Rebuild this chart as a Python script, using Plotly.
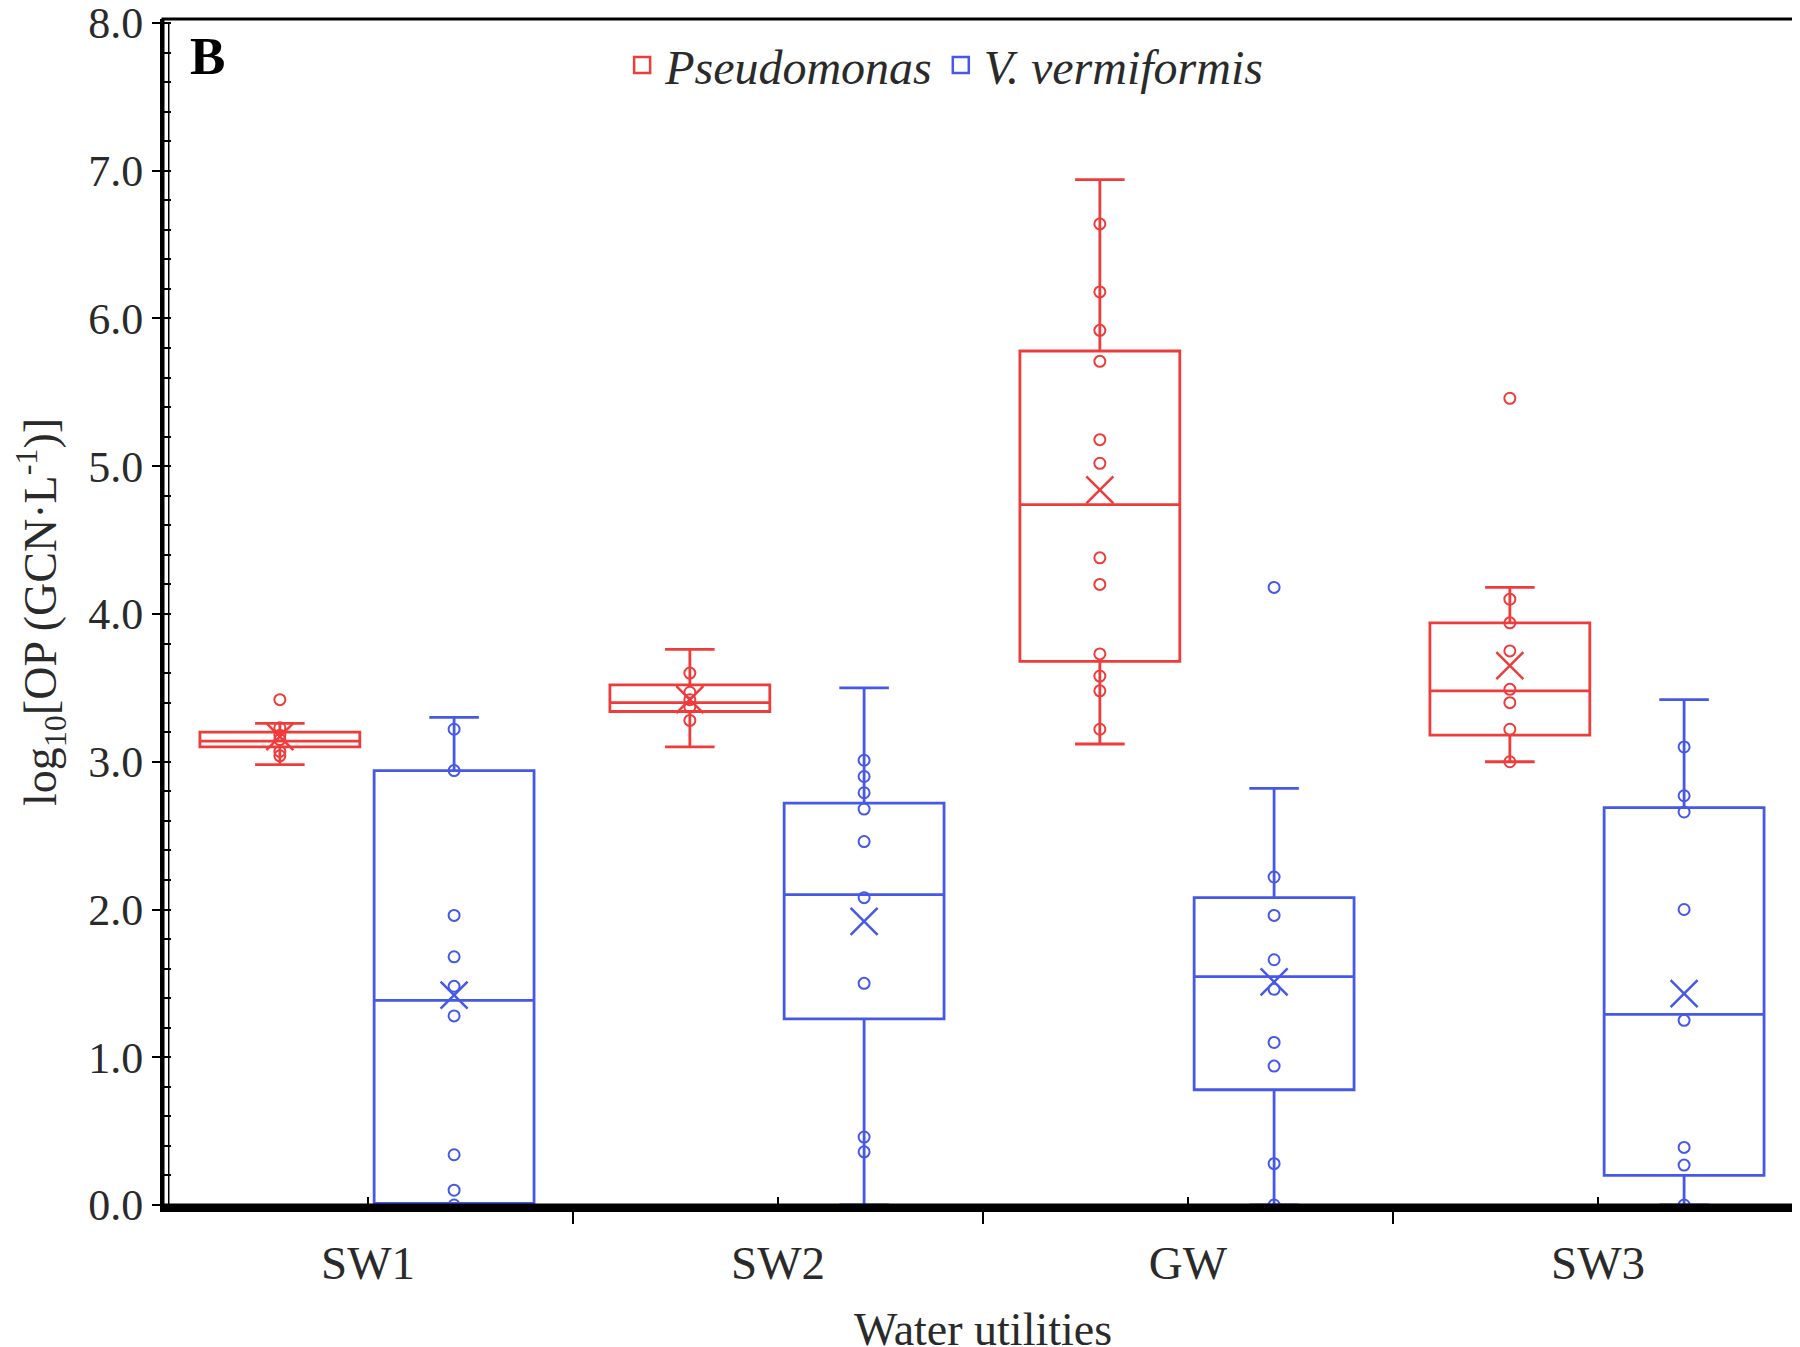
import plotly.graph_objects as go

# ---------------- data ----------------
categories = ["SW1", "SW2", "GW", "SW3"]

# Pseudomonas box statistics
pseudo_q1 = [3.10, 3.34, 3.68, 3.18]
pseudo_median = [3.14, 3.40, 4.74, 3.48]
pseudo_q3 = [3.20, 3.52, 5.78, 3.94]
pseudo_low = [2.98, 3.10, 3.12, 3.00]
pseudo_high = [3.26, 3.76, 6.94, 4.18]
pseudo_mean = [3.17, 3.42, 4.84, 3.65]

# V. vermiformis box statistics
verm_q1 = [0.01, 1.26, 0.78, 0.20]
verm_median = [1.385, 2.10, 1.545, 1.29]
verm_q3 = [2.94, 2.72, 2.08, 2.69]
verm_low = [0.0, 0.0, 0.0, 0.0]
verm_high = [3.30, 3.50, 2.82, 3.42]
verm_mean = [1.42, 1.92, 1.51, 1.43]

# individual points
pseudo_sw1 = [3.42, 3.23, 3.18, 3.15, 3.07, 3.04]
pseudo_sw2 = [3.60, 3.47, 3.42, 3.37, 3.28]
pseudo_gw = [6.64, 6.18, 5.92, 5.71, 5.18, 5.02, 4.38, 4.20, 3.73, 3.58, 3.48, 3.22]
pseudo_sw3 = [5.46, 4.10, 3.94, 3.75, 3.49, 3.40, 3.22, 3.00]

verm_sw1 = [3.22, 2.94, 1.96, 1.68, 1.48, 1.28, 0.34, 0.10, 0.0]
verm_sw2 = [3.01, 2.90, 2.79, 2.68, 2.46, 2.08, 1.50, 0.46, 0.36]
verm_gw = [4.18, 2.22, 1.96, 1.66, 1.46, 1.10, 0.94, 0.28, 0.0]
verm_sw3 = [3.10, 2.77, 2.66, 2.00, 1.25, 0.39, 0.27, 0.0]

pseudo_points = [pseudo_sw1, pseudo_sw2, pseudo_gw, pseudo_sw3]
verm_points = [verm_sw1, verm_sw2, verm_gw, verm_sw3]

y_ticks = [0, 1, 2, 3, 4, 5, 6, 7, 8]
y_ticklabels = ["0.0", "1.0", "2.0", "3.0", "4.0", "5.0", "6.0", "7.0", "8.0"]

# ---------------- style ----------------
RED = "rgb(238,60,60)"
BLUE = "rgb(70,88,232)"
TXT = "#2a2a2a"
FONT = "Liberation Serif, Times New Roman, serif"
OFF_RED, OFF_BLUE = -0.215, 0.21
BOX_W = 0.39

fig = go.Figure()

series = [
    ("<i>Pseudomonas</i>", RED, OFF_RED, pseudo_q1, pseudo_median, pseudo_q3,
     pseudo_low, pseudo_high, pseudo_mean, pseudo_points),
    ("<i>V. vermiformis</i>", BLUE, OFF_BLUE, verm_q1, verm_median, verm_q3,
     verm_low, verm_high, verm_mean, verm_points),
]

for k, (name, col, off, q1, med, q3, lo, hi, mean, pts) in enumerate(series):
    pos = [i + off for i in range(len(categories))]
    grp = "g%d" % k
    fig.add_trace(go.Box(
        x=pos, q1=q1, median=med, q3=q3, lowerfence=lo, upperfence=hi,
        width=BOX_W, whiskerwidth=0.31, name=name, legendgroup=grp, showlegend=False,
        line=dict(color=col, width=2.8), fillcolor="rgba(255,255,255,0)",
        boxpoints=False, hoverinfo="y",
    ))
    px, py = [], []
    for p, vals in zip(pos, pts):
        px += [p] * len(vals)
        py += vals
    fig.add_trace(go.Scatter(
        x=px, y=py, mode="markers", showlegend=False, legendgroup=grp,
        marker=dict(symbol="circle-open", size=11, color=col, line=dict(width=2, color=col)),
    ))
    fig.add_trace(go.Scatter(
        x=pos, y=mean, mode="markers", showlegend=False, legendgroup=grp,
        marker=dict(symbol="x-thin-open", size=27, color=col, line=dict(width=2.5, color=col)),
    ))
    # legend entry (open square, like the reference legend key)
    fig.add_trace(go.Scatter(
        x=[None], y=[None], mode="markers", name=name, legendgroup=grp, showlegend=True,
        marker=dict(symbol="square-open", size=16, color=col, line=dict(width=2.5, color=col)),
    ))

fig.update_layout(
    width=1800, height=1347,
    margin=dict(l=155, r=5, t=11, b=150, autoexpand=False),
    paper_bgcolor="white", plot_bgcolor="white",
    font=dict(family=FONT, size=46, color=TXT),
    showlegend=True,
    legend=dict(orientation="h", x=0.476, xanchor="center", y=0.993, yanchor="top",
                font=dict(family=FONT, size=48, color=TXT),
                bgcolor="rgba(0,0,0,0)", itemwidth=36, traceorder="normal"),
    xaxis=dict(
        range=[-0.5, 3.5], tickmode="array", tickvals=list(range(len(categories))),
        ticktext=categories, ticks="inside", ticklen=8, tickwidth=2, tickcolor="black",
        showline=True, linecolor="black", linewidth=7, showgrid=False, zeroline=False,
        ticklabelstandoff=11, automargin=True,
        tickfont=dict(family=FONT, size=47, color=TXT),
        minor=dict(tickmode="linear", tick0=-0.5, dtick=1, ticks="outside",
                   ticklen=12, tickwidth=2, tickcolor="black", showgrid=False),
        title=dict(text="Water utilities", font=dict(family=FONT, size=46, color=TXT),
                   standoff=33),
    ),
    yaxis=dict(
        range=[0, 8.027], tickmode="array", tickvals=y_ticks, ticktext=y_ticklabels,
        ticklabeloverflow="allow", automargin=True,
        ticks="outside", ticklen=8,
        tickwidth=2, tickcolor="black", showline=True, linecolor="black", linewidth=3,
        showgrid=False, zeroline=False,
        tickfont=dict(family=FONT, size=44, color=TXT),
        minor=dict(tickmode="linear", tick0=0, dtick=0.2, ticks="inside", ticklen=8, tickwidth=2,
                   tickcolor="black", showgrid=False),
        title=dict(text="log<sub>10</sub>[OP (GCN·L<sup>-1</sup>)]",
                   font=dict(family=FONT, size=46, color=TXT), standoff=32),
    ),
)

# frame around plot area and inner axis rule (double left axis line)
fig.add_shape(type="rect", xref="paper", yref="paper", x0=0, x1=1, y0=0, y1=1,
              line=dict(color="black", width=3), layer="above")
fig.add_shape(type="line", xref="paper", yref="paper", x0=0.0035, x1=0.0035, y0=0, y1=0.9966,
              line=dict(color="black", width=1.5), layer="above")

# panel letter
fig.add_annotation(text="<b>B</b>", xref="paper", yref="paper", x=0.015, y=0.995,
                   xanchor="left", yanchor="top", showarrow=False,
                   font=dict(family=FONT, size=53, color="black"))

fig.write_html("out.html")
